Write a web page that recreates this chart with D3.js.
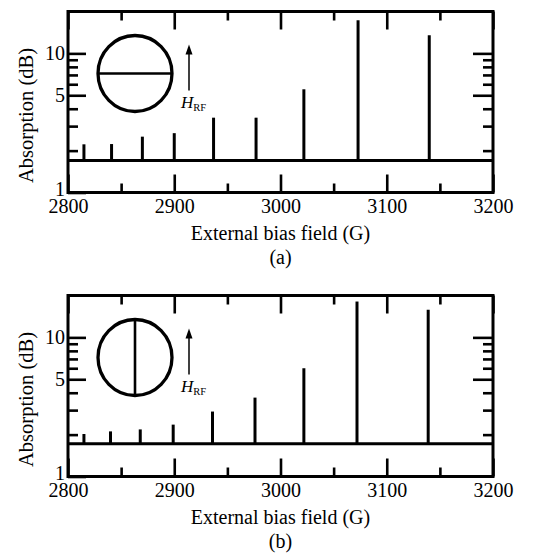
<!DOCTYPE html>
<html>
<head>
<meta charset="utf-8">
<script src="https://cdn.jsdelivr.net/npm/d3@7"></script>
<style>
  body { margin: 0; background: #fff; }
  svg { display: block; }
</style>
</head>
<body>
<script>
// peak positions (G) and heights (dB)
var fieldA = [2815, 2841, 2870, 2900, 2937, 2977, 3022, 3073, 3140];
var absA = [2.22, 2.23, 2.52, 2.67, 3.45, 3.45, 5.52, 17.3, 13.5];
var fieldB = [2815, 2840, 2868, 2899, 2936, 2976, 3022, 3072, 3139];
var absB = [2.02, 2.11, 2.18, 2.36, 2.93, 3.69, 6.0, 18.1, 15.8];
var baseA = 1.7, baseB = 1.72;

var xTicks = [2800, 2900, 3000, 3100, 3200];
var xMinor = [2850, 2950, 3050, 3150];
var yLabels = [1, 5, 10];
var yMinor = [2, 3, 4, 6, 7, 8, 9];

var W = 540, H = 554;
var left = 68, right = 493, ph = 181;
var serif = '"Liberation Serif", "Times New Roman", "DejaVu Serif", serif';

var svg = d3.select('body').append('svg').attr('width', W).attr('height', H)
  .style('font-family', serif);

var x = d3.scaleLinear().domain([2800, 3200]).range([left, right]);

function drawPanel(top, field, abs, base, caption, vertical) {
  var y = d3.scaleLog().domain([1, 20]).range([top + ph, top]);
  var g = svg.append('g');

  // ticks, pointing inward
  function axisG(axis, tx, ty) {
    var a = g.append('g').attr('transform', 'translate(' + tx + ',' + ty + ')').call(axis);
    a.attr('font-family', null).attr('font-size', null);
    a.select('.domain').remove();
    a.selectAll('line').attr('stroke', '#000').attr('stroke-width', 2.6);
    a.selectAll('text').style('font-size', '20px').style('font-family', serif).attr('fill', '#000');
    return a;
  }
  axisG(d3.axisBottom(x).tickValues(xTicks).tickSizeInner(-18).tickSizeOuter(0).tickPadding(6)
    .tickFormat(d3.format('d')), 0, top + ph);
  axisG(d3.axisBottom(x).tickValues(xMinor).tickSizeInner(-9).tickSizeOuter(0).tickFormat(''), 0, top + ph);
  axisG(d3.axisTop(x).tickValues(xTicks).tickSizeInner(-18).tickSizeOuter(0).tickFormat(''), 0, top);
  axisG(d3.axisTop(x).tickValues(xMinor).tickSizeInner(-9).tickSizeOuter(0).tickFormat(''), 0, top);
  var ya = axisG(d3.axisLeft(y).tickValues(yLabels).tickSizeInner(-18).tickSizeOuter(0).tickPadding(3)
    .tickFormat(d3.format('d')), left, 0);
  ya.selectAll('text').filter(function (d) { return d === 1; }).attr('y', -3);
  axisG(d3.axisLeft(y).tickValues(yMinor).tickSizeInner(-10).tickSizeOuter(0).tickFormat(''), left, 0);
  axisG(d3.axisRight(y).tickValues([5, 10]).tickSizeInner(-20).tickSizeOuter(0).tickFormat(''), right, 0);
  axisG(d3.axisRight(y).tickValues(yMinor).tickSizeInner(-10).tickSizeOuter(0).tickFormat(''), right, 0);

  // baseline
  g.append('line')
    .attr('x1', left).attr('x2', right)
    .attr('y1', y(base)).attr('y2', y(base))
    .attr('stroke', '#000').attr('stroke-width', 3);

  // absorption peaks
  g.selectAll('line.peak')
    .data(field)
    .enter()
    .append('line')
    .attr('class', 'peak')
    .attr('x1', function (d) { return x(d); })
    .attr('x2', function (d) { return x(d); })
    .attr('y1', y(base))
    .attr('y2', function (d, i) { return y(abs[i]); })
    .attr('stroke', '#000')
    .attr('stroke-width', 3);

  // frame
  g.append('rect')
    .attr('x', left).attr('y', top)
    .attr('width', right - left).attr('height', ph)
    .attr('fill', 'none').attr('stroke', '#000').attr('stroke-width', 3);

  // inset: disc with strip, and RF field arrow
  var cx = left + 67, cy = top + 62, rx = 37, ry = 38;
  g.append('ellipse')
    .attr('cx', cx).attr('cy', cy).attr('rx', rx).attr('ry', ry)
    .attr('fill', 'none').attr('stroke', '#000').attr('stroke-width', 3.3);
  if (vertical) {
    g.append('line').attr('x1', cx).attr('x2', cx).attr('y1', cy - ry).attr('y2', cy + ry)
      .attr('stroke', '#000').attr('stroke-width', 2.6);
  } else {
    g.append('line').attr('x1', cx - rx).attr('x2', cx + rx).attr('y1', cy).attr('y2', cy)
      .attr('stroke', '#000').attr('stroke-width', 2.6);
  }
  var ax = left + 121;
  g.append('line').attr('x1', ax).attr('x2', ax).attr('y1', top + 40).attr('y2', top + 79)
    .attr('stroke', '#000').attr('stroke-width', 1.5);
  g.append('path')
    .attr('d', 'M' + ax + ',' + (top + 33) + 'l-3.5,10h7z')
    .attr('fill', '#000');
  var lab = g.append('text').attr('x', ax - 8).attr('y', top + 96).style('font-size', '17px');
  lab.append('tspan').style('font-style', 'italic').text('H');
  lab.append('tspan').attr('dy', 3).style('font-size', '10.5px').text('RF');

  // titles
  g.append('text')
    .attr('x', (left + right) / 2).attr('y', top + ph + 47)
    .attr('text-anchor', 'middle').style('font-size', '20px')
    .text('External bias field (G)');
  g.append('text')
    .attr('x', (left + right) / 2).attr('y', top + ph + 71)
    .attr('text-anchor', 'middle').style('font-size', '20px')
    .text(caption);
  g.append('text')
    .attr('transform', 'translate(33,' + (top + 104) + ') rotate(-90)')
    .attr('text-anchor', 'middle').style('font-size', '20.5px')
    .text('Absorption (dB)');
}

drawPanel(11.5, fieldA, absA, baseA, '(a)', false);
drawPanel(295.5, fieldB, absB, baseB, '(b)', true);
</script>
</body>
</html>
